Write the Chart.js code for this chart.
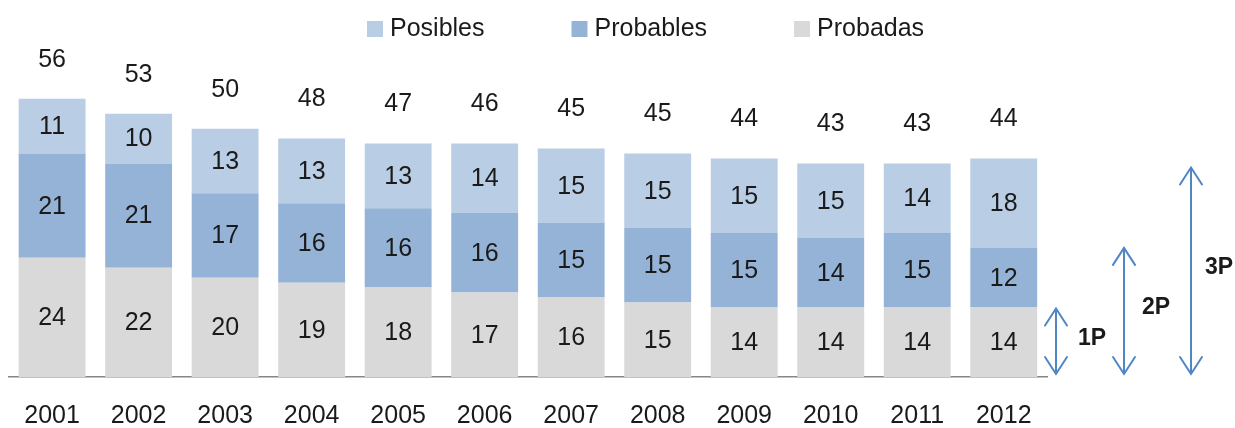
<!DOCTYPE html>
<html>
<head>
<meta charset="utf-8">
<script src="https://cdn.jsdelivr.net/npm/chart.js@4/dist/chart.umd.min.js"></script>
<style>
  html, body { margin: 0; padding: 0; background: #ffffff; }
  #wrap { width: 1235px; height: 428px; }
</style>
</head>
<body>
<div id="wrap"><canvas id="c" width="1235" height="428"></canvas></div>
<script>
const years = ['2001','2002','2003','2004','2005','2006','2007','2008','2009','2010','2011','2012'];
const probadas  = [24, 22, 20, 19, 18, 17, 16, 15, 14, 14, 14, 14];
const probables = [21, 21, 17, 16, 16, 16, 15, 15, 15, 14, 15, 12];
const posibles  = [11, 10, 13, 13, 13, 14, 15, 15, 15, 15, 14, 18];
const totals    = [56, 53, 50, 48, 47, 46, 45, 45, 44, 43, 43, 44];
const reserveLabels = ['1P', '2P', '3P'];

const FONT = "'Liberation Sans', Arial, sans-serif";
const C_POS = '#B9CDE5', C_PRB = '#95B3D7', C_PBD = '#D9D9D9';
const ARROW = '#4F86C6';

const labelsPlugin = {
  id: 'valueLabels',
  afterDatasetsDraw(chart) {
    const ctx = chart.ctx;
    ctx.save();
    ctx.font = '25px ' + FONT;
    ctx.fillStyle = '#1a1a1a';
    ctx.textAlign = 'center';
    ctx.textBaseline = 'middle';
    chart.data.datasets.forEach((ds, di) => {
      const meta = chart.getDatasetMeta(di);
      meta.data.forEach((bar, i) => {
        ctx.fillText(String(ds.data[i]), bar.x, (bar.y + bar.base) / 2 + 1);
      });
    });
    const topMeta = chart.getDatasetMeta(chart.data.datasets.length - 1);
    topMeta.data.forEach((bar, i) => {
      ctx.fillText(String(totals[i]), bar.x, bar.y - 39);
    });
    ctx.restore();
  }
};

const legendPlugin = {
  id: 'customLegend',
  afterDraw(chart) {
    const ctx = chart.ctx;
    const items = [...chart.data.datasets].reverse();
    ctx.save();
    ctx.font = '25px ' + FONT;
    ctx.textBaseline = 'middle';
    ctx.textAlign = 'left';
    let x = 367;
    const yc = 29;
    items.forEach(ds => {
      ctx.fillStyle = ds.backgroundColor;
      ctx.fillRect(x, yc - 8, 16, 16);
      ctx.fillStyle = '#1a1a1a';
      ctx.fillText(ds.label, x + 23, yc);
      x += 23 + ctx.measureText(ds.label).width + 87;
    });
    ctx.restore();
  }
};

const arrowPlugin = {
  id: 'reserveArrows',
  afterDraw(chart) {
    const ctx = chart.ctx;
    const ys = chart.scales.y;
    const area = chart.chartArea;
    const last = years.length - 1;
    const levels = [probadas[last], probadas[last] + probables[last], totals[last]];
    const xs = [area.right + 9, area.right + 77, area.right + 144];
    const topOffset = [1, 0, 9];
    const labelGap = [22, 18, 14];
    const bottom = area.bottom - 3;
    ctx.save();
    ctx.strokeStyle = ARROW;
    ctx.lineWidth = 2;
    ctx.lineCap = 'round';
    levels.forEach((v, k) => {
      const x = xs[k];
      const top = ys.getPixelForValue(v) + topOffset[k];
      ctx.beginPath();
      ctx.moveTo(x, top); ctx.lineTo(x, bottom);
      ctx.moveTo(x - 11, top + 17); ctx.lineTo(x, top); ctx.lineTo(x + 11, top + 17);
      ctx.moveTo(x - 11, bottom - 17); ctx.lineTo(x, bottom); ctx.lineTo(x + 11, bottom - 17);
      ctx.stroke();
      ctx.fillStyle = '#1a1a1a';
      ctx.font = 'bold 23px ' + FONT;
      ctx.textAlign = 'left';
      ctx.textBaseline = 'middle';
      ctx.fillText(reserveLabels[k], x + labelGap[k], (top + bottom) / 2 - 3);
    });
    ctx.restore();
  }
};

new Chart(document.getElementById('c'), {
  type: 'bar',
  data: {
    labels: years,
    datasets: [
      { label: 'Probadas',  data: probadas,  backgroundColor: C_PBD },
      { label: 'Probables', data: probables, backgroundColor: C_PRB },
      { label: 'Posibles',  data: posibles,  backgroundColor: C_POS }
    ]
  },
  options: {
    responsive: false,
    animation: false,
    events: [],
    layout: { padding: { top: 79, right: 188, left: 7, bottom: 0 } },
    datasets: { bar: { barPercentage: 0.773, categoryPercentage: 1.0, borderWidth: 0 } },
    plugins: { legend: { display: false }, tooltip: { enabled: false } },
    scales: {
      x: {
        stacked: true,
        grid: { display: false, drawTicks: false },
        border: { display: true, color: '#868686', width: 1.5 },
        ticks: { color: '#1a1a1a', font: { family: FONT, size: 25 }, padding: 24, maxRotation: 0 },
        afterFit(scale) { scale.height = 51; }
      },
      y: { stacked: true, display: false, min: 0, max: 60 }
    }
  },
  plugins: [labelsPlugin, legendPlugin, arrowPlugin]
});
</script>
</body>
</html>
